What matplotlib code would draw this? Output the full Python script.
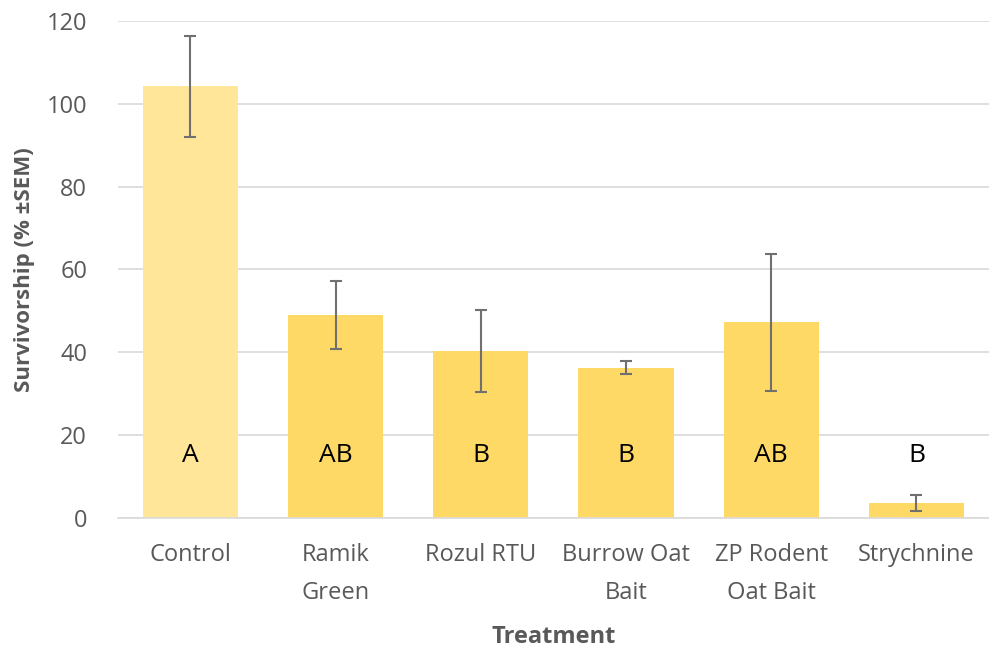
import matplotlib
matplotlib.use("Agg")
import matplotlib.pyplot as plt

## Data ##

treatments = ["Control", "Ramik\nGreen", "Rozul RTU", "Burrow Oat\nBait", "ZP Rodent\nOat Bait", "Strychnine"]
survivorship = [104.2, 49.0, 40.2, 36.3, 47.2, 3.7]
sem = [12.2, 8.2, 9.9, 1.6, 16.5, 1.9]
letters = ["A", "AB", "B", "B", "AB", "B"]
letter_y = [15, 15, 15, 15, 15, 15]

bar_colors = ["#FFE699", "#FFD966", "#FFD966", "#FFD966", "#FFD966", "#FFD966"]

####

plt.rcParams["font.family"] = ["Open Sans", "DejaVu Sans"]
grey = "#595959"

fig = plt.figure(figsize=(9.89, 6.5), dpi=100)
ax = fig.add_axes([0.119, 0.203, 0.881, 0.765])

x = list(range(len(treatments)))
ax.bar(x, survivorship, width=0.655, color=bar_colors, zorder=2)
ax.errorbar(x, survivorship, yerr=sem, fmt="none", ecolor="#707070",
            elinewidth=1.5, capsize=4, capthick=1.5, zorder=3)

for xi, lab, ly in zip(x, letters, letter_y):
    ax.text(xi, ly, lab, ha="center", va="center", fontsize=19, color="black", zorder=4)

ax.set_xlim(-0.5, len(treatments) - 0.5)
ax.set_ylim(0, 120)
ax.set_yticks(range(0, 121, 20))
ax.grid(axis="y", color="#D9D9D9", linewidth=1.2, zorder=0)
ax.set_axisbelow(True)

for side in ("top", "right", "left"):
    ax.spines[side].set_visible(False)
ax.spines["bottom"].set_color("#D9D9D9")
ax.spines["bottom"].set_linewidth(1.2)

ax.tick_params(axis="both", length=0, labelsize=17, labelcolor=grey)
ax.tick_params(axis="y", pad=22)
ax.tick_params(axis="x", pad=18)
ax.set_xticks(x)
ax.set_xticklabels(treatments, linespacing=1.8)

ax.set_xlabel("Treatment", fontsize=17, fontweight="bold", color=grey, labelpad=14)
ax.set_ylabel("Survivorship (% \u00b1SEM)", fontsize=16, fontweight="bold", color=grey, labelpad=8)

fig.savefig("out.png", dpi=100)
